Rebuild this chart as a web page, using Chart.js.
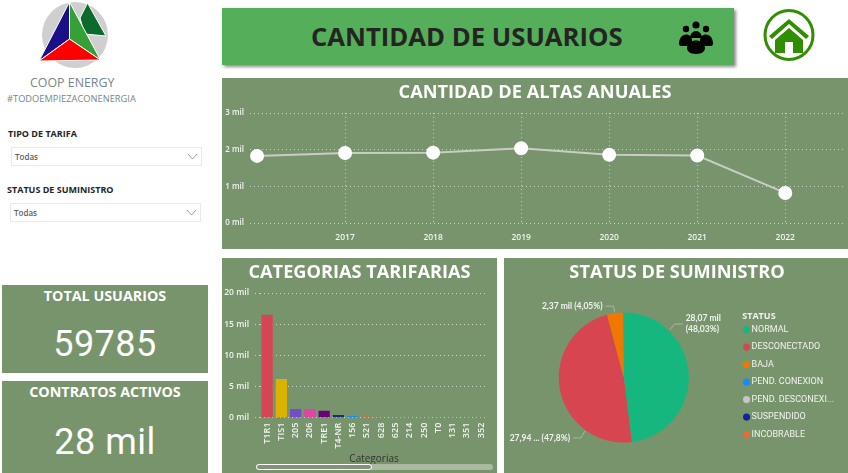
<!DOCTYPE html>
<html>
<head>
<meta charset="utf-8">
<script src="https://cdn.jsdelivr.net/npm/chart.js@4"></script>
<style>
  html, body { margin: 0; padding: 0; background: #fff; width: 848px; height: 473px; overflow: hidden; font-family: "Open Sans", sans-serif; }
  .abs { position: absolute; }
  .panel { position: absolute; background: #78946c; }
  .header { left: 222px; top: 8px; width: 512px; height: 57px; background: #54ae5a; box-shadow: 2px 2px 3px rgba(0,0,0,.45); }
  .header span { position: absolute; left: 89px; top: 11px; font-size: 25.7px; line-height: 36px; font-weight: 700; color: #252423; white-space: nowrap; }
  .kpi-title { position: absolute; left: 0; width: 100%; text-align: center; top: 1px; color: #fff; font-weight: 700; font-size: 14.3px; line-height: 20px; }
  .kpi-value { position: absolute; left: 0; width: 100%; text-align: center; color: #fff; font-family: Roboto, sans-serif; font-size: 36px; line-height: 44px; letter-spacing: .5px; }
  .slicer-label { position: absolute; font-size: 9px; font-weight: 700; color: #252423; line-height: 14px; white-space: nowrap; }
  .slicer { position: absolute; width: 189px; height: 17px; background: #fff; border: 1px solid #eaeaea; box-sizing: content-box; font-size: 8px; font-weight: 600; line-height: 17px; color: #605e5c; text-indent: 3px; }
  .slicer svg { position: absolute; right: 3px; top: 5px; }
  canvas { position: absolute; left: 0; top: 0; }
</style>
</head>
<body>
<!-- logo -->
<svg class="abs" style="left:30px;top:0" width="90" height="72" viewBox="30 0 90 72">
  <circle cx="75" cy="35" r="33" fill="#cfcfcf"/>
  <polygon points="87.5,3 80,18 84.5,34 106,36" fill="#0b6a2c" stroke="#fff" stroke-width="1"/>
  <polygon points="69.5,2 39,61 69.5,39" fill="#1b0f8a" stroke="#fff" stroke-width="1"/>
  <polygon points="69.5,2 69.5,39 100.5,60" fill="#35a035" stroke="#fff" stroke-width="1"/>
  <polygon points="39,61 69.5,39 100.5,60" fill="#ff0000" stroke="#fff" stroke-width="1"/>
</svg>
<div class="abs" style="left:30px;top:75px;font-size:12.4px;line-height:16px;color:#75868c;white-space:nowrap">COOP ENERGY</div>
<div class="abs" style="left:7px;top:92px;font-size:9.3px;line-height:13px;color:#75868c;white-space:nowrap">#TODOEMPIEZACONENERGIA</div>

<div class="slicer-label" style="left:8px;top:127px">TIPO DE TARIFA</div>
<div class="slicer" style="left:11px;top:147px">Todas
  <svg width="11" height="7" viewBox="0 0 11 7"><polyline points="1,1 5.5,6 10,1" fill="none" stroke="#999" stroke-width="1"/></svg>
</div>
<div class="slicer-label" style="left:7px;top:183px">STATUS DE SUMINISTRO</div>
<div class="slicer" style="left:10px;top:203px">Todas
  <svg width="11" height="7" viewBox="0 0 11 7"><polyline points="1,1 5.5,6 10,1" fill="none" stroke="#999" stroke-width="1"/></svg>
</div>

<div class="panel" style="left:2px;top:285px;width:206px;height:88px">
  <div class="kpi-title">TOTAL USUARIOS</div>
  <div class="kpi-value" style="top:37px">59785</div>
</div>
<div class="panel" style="left:2px;top:381px;width:206px;height:92px">
  <div class="kpi-title">CONTRATOS ACTIVOS</div>
  <div class="kpi-value" style="top:39px">28 mil</div>
</div>

<div class="abs header"><span>CANTIDAD DE USUARIOS</span>
  <!-- people icon -->
  <svg class="abs" style="left:456px;top:13px" width="36" height="33" viewBox="0 0 36 33" fill="#000">
    <circle cx="18" cy="4" r="3.6"/><circle cx="8" cy="8" r="3.2"/><circle cx="28" cy="8" r="3.2"/>
    <circle cx="18" cy="13.5" r="3.6"/>
    <path d="M12 20c0-9 12-9 12 0z" transform="translate(0,-3)"/>
    <path d="M1 23c0-12 13-12 13-3l-2 5H2z"/><path d="M35 23c0-12-13-12-13-3l2 5h10z"/>
    <path d="M9 27c0-10 18-10 18 0 0 3-3 6-9 6s-9-3-9-6z"/>
  </svg>
</div>
<!-- home icon -->
<svg class="abs" style="left:763px;top:9px" width="52" height="52" viewBox="0 0 52 52">
  <ellipse cx="26" cy="26" rx="24" ry="24.5" fill="#fff" stroke="#2f8f00" stroke-width="3"/>
  <polygon points="26,10 6,27 9,30 26,15 43,30 46,27" fill="#2f8f00"/>
  <polygon points="26,19 12,31 12,44 22,44 22,33 30,33 30,44 40,44 40,31" fill="#2f8f00"/>
</svg>

<div class="panel" style="left:222px;top:78px;width:626px;height:171px"><canvas id="lineChart" width="626" height="171"></canvas></div>
<div class="panel" style="left:222px;top:258px;width:275px;height:215px">
  <canvas id="barChart" width="275" height="207"></canvas>
  <div class="abs" style="left:34px;top:206px;width:237px;height:6px;background:#a9baa0;border-radius:3px"></div>
  <div class="abs" style="left:34px;top:206px;width:114px;height:4px;background:#84917e;border:1px solid #fff;border-radius:3px"></div>
</div>
<div class="panel" style="left:504px;top:258px;width:344px;height:215px"><canvas id="pieChart" width="344" height="215"></canvas></div>

<script>
const altaYears = [2016, 2017, 2018, 2019, 2020, 2021, 2022];
const altaValues = [1.83, 1.91, 1.92, 2.04, 1.86, 1.84, 0.82];
const yearTicks = [2017, 2018, 2019, 2020, 2021, 2022];

const tarifaLabels = ['T1R1', 'TIS1', '205', '206', 'TRE1', 'T4-NR', '156', '521', '628', '625', '214', '250', 'T0', '131', '351', '352'];
const tarifaValues = [16.5, 6.2, 1.4, 1.4, 1.12, 0.42, 0.27, 0.2, 0.12, 0.1, 0.1, 0.1, 0.1, 0.1, 0.1, 0.1];
const tarifaColors = ['#d64554', '#d9b300', '#744ec2', '#e044a7', '#6b007b', '#1a2b80', '#118dff', '#d9673d', '#118dff', '#118dff', '#118dff', '#118dff', '#118dff', '#118dff', '#118dff', '#118dff'];

const statusLabels = ['NORMAL', 'DESCONECTADO', 'BAJA', 'PEND. CONEXION', 'PEND. DESCONEXI...', 'SUSPENDIDO', 'INCOBRABLE'];
const statusValues = [28.07, 27.94, 2.37, 0.03, 0.01, 0.01, 0.01];
const statusColors = ['#15b77e', '#d64550', '#f07800', '#118dff', '#c8c6c4', '#12239e', '#e66c37'];

const TEXT = '#f1f4ef';
const GRID = 'rgba(255,255,255,0.6)';
const FONT = '"Open Sans", sans-serif';

Chart.defaults.animation = false;
Chart.defaults.font.family = FONT;

function titleOpts(text) {
    return { display: true, text: text, color: '#fff', font: { size: 18.2, weight: '700', lineHeight: 1.2 }, padding: { top: 4, bottom: 9.2 } };
}

new Chart(document.getElementById('lineChart'), {
    type: 'line',
    data: {
        datasets: [{
            data: altaYears.map((y, i) => ({ x: y, y: altaValues[i] })),
            borderColor: '#c9cdc6',
            borderWidth: 2,
            pointBackgroundColor: '#fff',
            pointBorderColor: '#fff',
            pointRadius: 6
        }]
    },
    options: {
        responsive: false,
        layout: { autoPadding: false, padding: { left: 2, right: 2 } },
        plugins: { legend: { display: false }, tooltip: { enabled: false }, title: titleOpts('CANTIDAD DE ALTAS ANUALES') },
        scales: {
            x: {
                type: 'linear', min: 2015.92, max: 2022.69,
                afterBuildTicks: axis => { axis.ticks = yearTicks.map(v => ({ value: v })); },
                afterFit: axis => { axis.height = 26; },
                border: { display: false, dash: [1, 3] },
                grid: { color: GRID, drawTicks: false },
                ticks: { color: TEXT, font: { size: 8.5, weight: '600' }, padding: 9, maxRotation: 0, callback: v => String(v) }
            },
            y: {
                min: 0, max: 3,
                afterFit: axis => { axis.width = 26; },
                border: { display: false, dash: [1, 3] },
                grid: { color: GRID, drawTicks: false },
                ticks: { color: TEXT, stepSize: 1, font: { size: 8, weight: '600' }, padding: 6, callback: v => v + ' mil' }
            }
        }
    }
});

new Chart(document.getElementById('barChart'), {
    type: 'bar',
    data: {
        labels: tarifaLabels,
        datasets: [{ data: tarifaValues, backgroundColor: tarifaColors, barPercentage: 0.79, categoryPercentage: 1 }]
    },
    options: {
        responsive: false,
        layout: { autoPadding: false, padding: { left: 1, right: 1 } },
        plugins: { legend: { display: false }, tooltip: { enabled: false }, title: titleOpts('CATEGORIAS TARIFARIAS') },
        scales: {
            x: {
                afterFit: axis => { axis.height = 47.3; },
                border: { display: false },
                grid: { display: false, drawTicks: false },
                title: { display: true, text: 'Categorias', color: '#333', font: { size: 10 }, padding: 0 },
                ticks: { color: TEXT, autoSkip: false, minRotation: 90, maxRotation: 90, font: { size: 9, weight: '600' }, padding: 5 }
            },
            y: {
                min: 0, max: 20,
                afterFit: axis => { axis.width = 37; },
                border: { display: false, dash: [1, 3] },
                grid: { color: GRID, tickBorderDash: [1, 3], tickColor: GRID, tickLength: 5 },
                ticks: { color: TEXT, stepSize: 5, font: { size: 8.5, weight: '600' }, padding: 6, callback: v => v + ' mil' }
            },
            // eje vacio: solo deja el hueco a la derecha sin mover el titulo
            rightGap: {
                position: 'right',
                afterFit: axis => { axis.width = 6.5; },
                border: { display: false },
                grid: { display: false, drawTicks: false },
                ticks: { display: false }
            }
        }
    }
});

// Etiquetas con linea guia del pie
const pieNotes = [
    { angle: 44, lines: ['28,07 mil', '(48,03%)'], elbow: [5, -6], side: 1, lineGap: 11 },
    { angle: 216, lines: ['27,94 ... (47,8%)'], elbow: [-4, 7], side: -1, lineGap: 0 },
    { angle: 352, lines: ['2,37 mil (4,05%)'], elbow: [-1, -6], side: -1, lineGap: 0 }
];
const pieNotesPlugin = {
    id: 'pieNotes',
    afterDatasetsDraw(chart) {
        const ctx = chart.ctx;
        const arc = chart.getDatasetMeta(0).data[0];
        ctx.save();
        ctx.font = '700 8.5px Lato, sans-serif';
        ctx.fillStyle = TEXT;
        ctx.textBaseline = 'middle';
        pieNotes.forEach(n => {
            const a = n.angle * Math.PI / 180;
            const sx = arc.x + Math.sin(a) * (arc.outerRadius + 1);
            const sy = arc.y - Math.cos(a) * (arc.outerRadius + 1);
            const ex = sx + n.elbow[0];
            const ey = sy + n.elbow[1];
            const tx = ex + n.side * 8;
            ctx.strokeStyle = '#a9b7a2';
            ctx.beginPath();
            ctx.moveTo(sx, sy);
            ctx.lineTo(ex, ey);
            ctx.lineTo(tx, ey);
            ctx.stroke();
            ctx.textAlign = n.side > 0 ? 'left' : 'right';
            n.lines.forEach((t, i) => ctx.fillText(t, tx + n.side * 3, ey - (n.lines.length - 1) * n.lineGap / 2 + i * n.lineGap));
        });
        ctx.restore();
    }
};

new Chart(document.getElementById('pieChart'), {
    type: 'pie',
    data: {
        labels: statusLabels,
        datasets: [{ data: statusValues, backgroundColor: statusColors, borderWidth: 0, radius: 65 }]
    },
    options: {
        responsive: false,
        layout: { padding: { left: 6, right: 4, bottom: 11 } },
        plugins: {
            tooltip: { enabled: false },
            title: titleOpts('STATUS DE SUMINISTRO'),
            legend: {
                position: 'right',
                title: { display: true, text: '\u00a0\u00a0STATUS', color: TEXT, position: 'start', font: { size: 9, weight: '700' }, padding: { top: 39.4, bottom: -6 } },
                labels: { color: TEXT, font: { size: 9, family: 'Roboto, sans-serif' }, usePointStyle: true, pointStyle: 'circle', boxWidth: 1, boxHeight: 5, padding: 8.5 }
            }
        }
    },
    plugins: [pieNotesPlugin]
});
</script>
</body>
</html>
